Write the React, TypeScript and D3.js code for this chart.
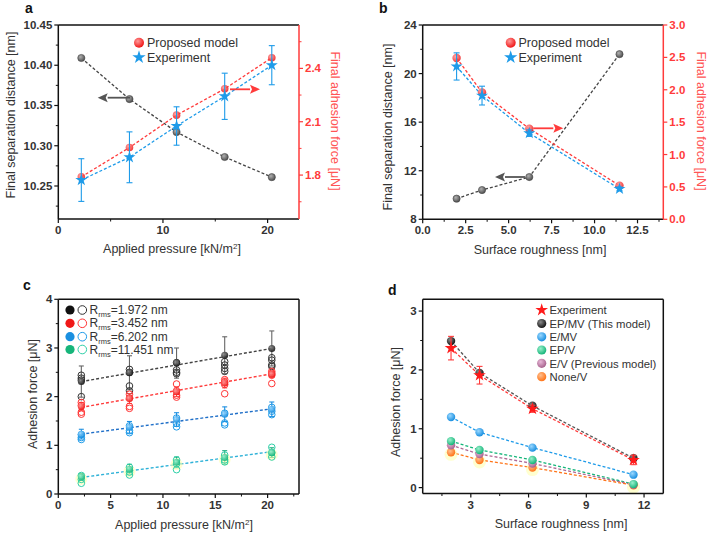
import React from 'react';
import * as d3 from 'd3';

// ---------- data ----------
const pressure = [2.2, 6.8, 11.3, 15.9, 20.4];
const aSeparation = [10.409, 10.358, 10.317, 10.286, 10.261];
const aModelForce = [1.79, 1.955, 2.137, 2.285, 2.46];
const aExpForce = [1.772, 1.9, 2.076, 2.243, 2.418];
const aExpErr = [0.12, 0.143, 0.108, 0.13, 0.11];

const roughness = [1.972, 3.452, 6.202, 11.451];
const bSeparation = [9.7, 10.41, 11.48, 21.6];
const bModelForce = [2.49, 1.96, 1.4, 0.52];
const bExpForce = [2.36, 1.91, 1.33, 0.47];
const bExpErr = [0.21, 0.145, 0.05, 0.03];

const cLabels = ['1.972 nm', '3.452 nm', '6.202 nm', '11.451 nm'];
const cMeans = [
  [2.31, 2.49, 2.69, 2.85, 2.99],
  [1.8, 1.96, 2.1, 2.28, 2.46],
  [1.23, 1.37, 1.53, 1.64, 1.74],
  [0.35, 0.51, 0.65, 0.75, 0.85],
];
const cErr = [
  [0.32, 0.35, 0.31, 0.38, 0.36],
  [0.08, 0.1, 0.1, 0.1, 0.06],
  [0.1, 0.12, 0.14, 0.15, 0.15],
  [0.07, 0.1, 0.11, 0.14, 0.1],
];
const cOpen = [
  [[2.44, 2.38, 2.34, 2.0], [2.56, 2.5, 2.22, 2.12], [2.7, 2.55, 2.5, 2.47], [2.72, 2.65, 2.58, 2.52], [2.8, 2.75, 2.65, 2.62]],
  [[1.88, 1.82, 1.68, 1.64], [2.05, 1.97, 1.8, 1.76], [2.26, 2.12, 2.03, 1.99], [2.35, 2.3, 2.25, 2.06], [2.52, 2.48, 2.44, 2.27]],
  [[1.22, 1.16, 1.12], [1.4, 1.3, 1.26], [1.56, 1.45, 1.38], [1.66, 1.46, 1.42], [1.78, 1.7, 1.63]],
  [[0.38, 0.3, 0.22], [0.55, 0.45, 0.39], [0.7, 0.62, 0.5], [0.8, 0.7, 0.66], [0.96, 0.85, 0.76]],
];
const cFit = [
  [2.31, 2.99],
  [1.78, 2.47],
  [1.23, 1.75],
  [0.34, 0.87],
];

const dLabels = ['Experiment', 'EP/MV (This model)', 'E/MV', 'EP/V', 'E/V (Previous model)', 'None/V'];
const dExp = [2.37, 1.91, 1.34, 0.47];
const dExpErr = [0.2, 0.15, 0.06, 0.08];
const dEPMV = [2.49, 1.95, 1.39, 0.5];
const dEMV = [1.2, 0.94, 0.68, 0.22];
const dEPV = [0.79, 0.64, 0.47, 0.06];
const dEV = [0.72, 0.57, 0.41, 0.05];
const dNoneV = [0.6, 0.47, 0.34, 0.04];

// ---------- style ----------
const FONT = "Arial, 'Liberation Sans', Helvetica, sans-serif";
const TXT = '#333';
const RED = '#ff3b3b';
const BLUE = '#1e9be9';
const GRAY = '#555';

type Sc = d3.ScaleLinear<number, number>;

function XAxis({ scale, y, major, minor, fmt }: { scale: Sc; y: number; major: number[]; minor: number[]; fmt: (v: number) => string }) {
  return (
    <g>
      {minor.map((v) => (
        <line key={'m' + v} x1={scale(v)} x2={scale(v)} y1={y} y2={y + 2.5} stroke="#111" strokeWidth={1} />
      ))}
      {major.map((v) => (
        <g key={'M' + v}>
          <line x1={scale(v)} x2={scale(v)} y1={y} y2={y + 4} stroke="#111" strokeWidth={1.2} />
          <text x={scale(v)} y={y + 15} textAnchor="middle" fontSize={11.5} fontWeight="bold" fill={TXT}>
            {fmt(v)}
          </text>
        </g>
      ))}
    </g>
  );
}

function YAxis({ scale, x, major, minor, fmt, side, color }: { scale: Sc; x: number; major: number[]; minor: number[]; fmt: (v: number) => string; side: 'left' | 'right'; color: string }) {
  const s = side === 'left' ? -1 : 1;
  return (
    <g>
      {minor.map((v) => (
        <line key={'m' + v} x1={x} x2={x + s * 2.5} y1={scale(v)} y2={scale(v)} stroke={color} strokeWidth={1} />
      ))}
      {major.map((v) => (
        <g key={'M' + v}>
          <line x1={x} x2={x + s * 4} y1={scale(v)} y2={scale(v)} stroke={color} strokeWidth={1.2} />
          <text
            x={x + s * 6}
            y={scale(v) + 4}
            textAnchor={side === 'left' ? 'end' : 'start'}
            fontSize={11.5}
            fontWeight="bold"
            fill={side === 'left' ? TXT : color}
          >
            {fmt(v)}
          </text>
        </g>
      ))}
    </g>
  );
}

function Frame({ x0, x1, y0, y1, right = '#111' }: { x0: number; x1: number; y0: number; y1: number; right?: string }) {
  return (
    <g strokeWidth={1.5} fill="none">
      <line x1={x0} x2={x1} y1={y0} y2={y0} stroke="#111" />
      <line x1={x0} x2={x1} y1={y1} y2={y1} stroke="#111" />
      <line x1={x0} x2={x0} y1={y0} y2={y1} stroke="#111" />
      <line x1={x1} x2={x1} y1={y0} y2={y1} stroke={right} />
    </g>
  );
}

function Arrow({ x1, x2, y, color }: { x1: number; x2: number; y: number; color: string }) {
  const dir = x2 > x1 ? 1 : -1;
  const hx = x2 - dir * 10;
  return (
    <g>
      <line x1={x1} x2={hx} y1={y} y2={y} stroke={color} strokeWidth={1.8} />
      <path d={`M${x2},${y} L${hx},${y - 4.5} L${hx + dir * 2},${y} L${hx},${y + 4.5} Z`} fill={color} />
    </g>
  );
}

const star = (size: number) => d3.symbol().type(d3.symbolStar).size(size)() as string;

function ErrBar({ x, y1, y2, color, w = 3 }: { x: number; y1: number; y2: number; color: string; w?: number }) {
  return (
    <g stroke={color} strokeWidth={1.1}>
      <line x1={x} x2={x} y1={y1} y2={y2} />
      <line x1={x - w} x2={x + w} y1={y1} y2={y1} />
      <line x1={x - w} x2={x + w} y1={y2} y2={y2} />
    </g>
  );
}

const grad = (id: string) => `url(#g_${id})`;
const COLORS: Record<string, [string, string]> = {
  gray: ['#b0b0b0', '#505050'],
  black: ['#8a8a8a', '#151515'],
  red: ['#ff9a9a', '#f01818'],
  blue: ['#9ad8ff', '#1a8fe0'],
  green: ['#9af0cc', '#16b57a'],
  purple: ['#e8b8d8', '#a8648e'],
  orange: ['#ffc090', '#ff7418'],
};

function linePath(xs: number[], ys: number[], sx: Sc, sy: Sc) {
  return d3
    .line<number>()
    .x((_, i) => sx(xs[i]))
    .y((v) => sy(v))(ys) as string;
}

function AxisTitleX({ x, y, children }: { x: number; y: number; children: React.ReactNode }) {
  return (
    <text x={x} y={y} textAnchor="middle" fontSize={12.5} fill={TXT}>
      {children}
    </text>
  );
}
function AxisTitleY({ x, y, children, color = TXT, right = false }: { x: number; y: number; children: React.ReactNode; color?: string; right?: boolean }) {
  return (
    <text x={0} y={0} transform={`translate(${x},${y}) rotate(${right ? 90 : -90})`} textAnchor="middle" fontSize={12.5} fill={color}>
      {children}
    </text>
  );
}

const pressureLabel = (
  <>
    Applied pressure [kN/m<tspan dy={-4} fontSize={8}>2</tspan>
    <tspan dy={4}>]</tspan>
  </>
);

export default function App() {
  const aX = d3.scaleLinear().domain([0, 23]).range([58.3, 299]);
  const aYL = d3.scaleLinear().domain([10.209, 10.45]).range([219, 25]);
  const aYR = d3.scaleLinear().domain([1.553, 2.644]).range([219, 25]);
  const bX = d3.scaleLinear().domain([0, 14]).range([422.7, 663.3]);
  const bYL = d3.scaleLinear().domain([8, 24]).range([219.3, 25]);
  const bYR = d3.scaleLinear().domain([0, 3]).range([219.3, 25]);
  const cX = d3.scaleLinear().domain([0, 23]).range([58.3, 299]);
  const cY = d3.scaleLinear().domain([0, 4]).range([494, 299.3]);
  const dX = d3.scaleLinear().domain([0.5, 13]).range([422.7, 663.3]);
  const dY = d3.scaleLinear().domain([-0.1, 3.2]).range([493.5, 299.3]);

  const f2 = d3.format('.2f');
  const f1 = d3.format('.1f');
  const f0 = d3.format('d');

  const cCol = [
    { fill: 'black', stroke: '#333', line: '#444', err: '#666' },
    { fill: 'red', stroke: '#ff3333', line: '#ff3b3b', err: '#ff4040' },
    { fill: 'blue', stroke: '#1e9be9', line: '#1f6fc8', err: '#1e8fe0' },
    { fill: 'green', stroke: '#2ed0a8', line: '#2fb2d8', err: '#1cae80' },
  ];
  const cLegendFill = ['#111', '#f01818', '#1a8fe0', '#16b57a'];

  const dSeries = [
    { vals: dEPMV, fill: 'black', line: '#555' },
    { vals: dEMV, fill: 'blue', line: '#1e9be9' },
    { vals: dEPV, fill: 'green', line: '#16b57a' },
    { vals: dEV, fill: 'purple', line: '#b06a95' },
    { vals: dNoneV, fill: 'orange', line: '#ff7418' },
  ];

  return (
    <svg width={709} height={540} style={{ position: 'absolute', left: 0, top: 0, background: '#fff' }} fontFamily={FONT}>
      <defs>
        {Object.entries(COLORS).map(([k, [c1, c2]]) => (
          <radialGradient key={k} id={`g_${k}`} cx="38%" cy="35%" r="65%">
            <stop offset="0%" stopColor={c1} />
            <stop offset="100%" stopColor={c2} />
          </radialGradient>
        ))}
      </defs>
      <rect width={709} height={540} fill="#fff" />

      {/* ================= panel a ================= */}
      <text x={25} y={13} fontSize={14} fontWeight="bold" fill="#111">a</text>
      <XAxis scale={aX} y={219} major={[0, 10, 20]} minor={[5, 15]} fmt={f0} />
      <YAxis scale={aYL} x={58.3} side="left" color="#111" major={[10.25, 10.3, 10.35, 10.4, 10.45]} minor={[10.225, 10.275, 10.325, 10.375, 10.425]} fmt={f2} />
      <YAxis scale={aYR} x={299} side="right" color={RED} major={[1.8, 2.1, 2.4]} minor={[1.65, 1.95, 2.25, 2.55]} fmt={f1} />
      <path d={linePath(pressure, aSeparation, aX, aYL)} fill="none" stroke="#444" strokeWidth={1.3} strokeDasharray="3,2" />
      <path d={linePath(pressure, aModelForce, aX, aYR)} fill="none" stroke={RED} strokeWidth={1.3} strokeDasharray="3,2" />
      <path d={linePath(pressure, aExpForce, aX, aYR)} fill="none" stroke={BLUE} strokeWidth={1.3} strokeDasharray="3,2" />
      {pressure.map((p, i) => (
        <g key={'a' + i}>
          <circle cx={aX(p)} cy={aYL(aSeparation[i])} r={3.6} fill={grad('gray')} stroke="#444" strokeWidth={0.6} />
          <circle cx={aX(p)} cy={aYR(aModelForce[i])} r={3.8} fill={grad('red')} opacity={0.85} />
          <ErrBar x={aX(p)} y1={aYR(aExpForce[i] + aExpErr[i])} y2={aYR(aExpForce[i] - aExpErr[i])} color={BLUE} />
          <path d={star(45)} transform={`translate(${aX(p)},${aYR(aExpForce[i])})`} fill={BLUE} />
        </g>
      ))}
      <Arrow x1={130} x2={97.7} y={97.7} color={GRAY} />
      <Arrow x1={230} x2={260} y={89.3} color={RED} />
      <circle cx={139} cy={42.7} r={5} fill={grad('red')} />
      <text x={147} y={47} fontSize={12.5} fill={TXT}>Proposed model</text>
      <path d={star(55)} transform="translate(139,57.3)" fill={BLUE} />
      <text x={147} y={61.5} fontSize={12.5} fill={TXT}>Experiment</text>
      <Frame x0={58.3} x1={299} y0={25} y1={219} right={RED} />
      <AxisTitleX x={172} y={253}>{pressureLabel}</AxisTitleX>
      <AxisTitleY x={15} y={115}>Final separation distance [nm]</AxisTitleY>
      <AxisTitleY x={331} y={121} color="#ff5555" right>Final adhesion force [μN]</AxisTitleY>

      {/* ================= panel b ================= */}
      <text x={379} y={13} fontSize={14} fontWeight="bold" fill="#111">b</text>
      <XAxis scale={bX} y={219.3} major={[0, 2.5, 5, 7.5, 10, 12.5]} minor={[1.25, 3.75, 6.25, 8.75, 11.25, 13.75]} fmt={f1} />
      <YAxis scale={bYL} x={422.7} side="left" color="#111" major={[8, 12, 16, 20, 24]} minor={[10, 14, 18, 22]} fmt={f0} />
      <YAxis scale={bYR} x={663.3} side="right" color={RED} major={[0, 0.5, 1, 1.5, 2, 2.5, 3]} minor={[]} fmt={f1} />
      <path d={linePath(roughness, bSeparation, bX, bYL)} fill="none" stroke="#444" strokeWidth={1.3} strokeDasharray="3,2" />
      <path d={linePath(roughness, bModelForce, bX, bYR)} fill="none" stroke={RED} strokeWidth={1.3} strokeDasharray="3,2" />
      <path d={linePath(roughness, bExpForce, bX, bYR)} fill="none" stroke={BLUE} strokeWidth={1.3} strokeDasharray="3,2" />
      {roughness.map((r, i) => (
        <g key={'b' + i}>
          <circle cx={bX(r)} cy={bYL(bSeparation[i])} r={3.6} fill={grad('gray')} stroke="#444" strokeWidth={0.6} />
          <circle cx={bX(r)} cy={bYR(bModelForce[i])} r={4.2} fill={grad('red')} opacity={0.85} />
          <ErrBar x={bX(r)} y1={bYR(bExpForce[i] + bExpErr[i])} y2={bYR(bExpForce[i] - bExpErr[i])} color={BLUE} />
          <path d={star(45)} transform={`translate(${bX(r)},${bYR(bExpForce[i])})`} fill={BLUE} />
        </g>
      ))}
      <Arrow x1={533.3} x2={563.3} y={128.3} color={RED} />
      <Arrow x1={525} x2={495} y={177} color={GRAY} />
      <circle cx={510.7} cy={42.7} r={5} fill={grad('red')} />
      <text x={518.5} y={47} fontSize={12.5} fill={TXT}>Proposed model</text>
      <path d={star(55)} transform="translate(510.7,57.3)" fill={BLUE} />
      <text x={518.5} y={61.5} fontSize={12.5} fill={TXT}>Experiment</text>
      <Frame x0={422.7} x1={663.3} y0={25} y1={219.3} right={RED} />
      <AxisTitleX x={540} y={254}>Surface roughness  [nm]</AxisTitleX>
      <AxisTitleY x={392} y={127}>Final separation distance [nm]</AxisTitleY>
      <AxisTitleY x={697} y={121} color="#ff5555" right>Final adhesion force [μN]</AxisTitleY>

      {/* ================= panel c ================= */}
      <text x={23} y={290} fontSize={14} fontWeight="bold" fill="#111">c</text>
      <XAxis scale={cX} y={494} major={[0, 5, 10, 15, 20]} minor={[2.5, 7.5, 12.5, 17.5, 22.5]} fmt={f0} />
      <YAxis scale={cY} x={58.3} side="left" color="#111" major={[0, 1, 2, 3, 4]} minor={[0.5, 1.5, 2.5, 3.5]} fmt={f0} />
      {cMeans.map((means, s) => (
        <g key={'c' + s}>
          <line
            x1={cX(pressure[0])}
            x2={cX(pressure[pressure.length - 1])}
            y1={cY(cFit[s][0])}
            y2={cY(cFit[s][1])}
            stroke={cCol[s].line}
            strokeWidth={1.4}
            strokeDasharray="3,2"
          />
          {pressure.map((p, i) => (
            <g key={i}>
              <ErrBar x={cX(p)} y1={cY(means[i] + cErr[s][i])} y2={cY(means[i] - cErr[s][i])} color={cCol[s].err} w={2.5} />
              {s === 3 && <circle cx={cX(p)} cy={cY(means[i]) + 2} r={6} fill="#ffffb0" opacity={0.6} />}
              {cOpen[s][i].map((v, k) => (
                <circle key={k} cx={cX(p)} cy={cY(v)} r={3.3} fill="none" stroke={cCol[s].stroke} strokeWidth={1} />
              ))}
              <circle cx={cX(p)} cy={cY(means[i])} r={3.5} fill={grad(cCol[s].fill)} opacity={0.9} />
            </g>
          ))}
        </g>
      ))}
      {cLabels.map((lab, s) => {
        const y = [310, 323.3, 336.7, 349.5][s];
        return (
          <g key={'cl' + s}>
            <circle cx={70} cy={y} r={4.6} fill={cLegendFill[s]} />
            <circle cx={82.3} cy={y} r={4.3} fill="none" stroke={cCol[s].stroke} strokeWidth={1} />
            <text x={89.5} y={y + 4} fontSize={12} fill={TXT}>
              R<tspan fontSize={7.5} dy={3}>rms</tspan>
              <tspan dy={-3}>={lab}</tspan>
            </text>
          </g>
        );
      })}
      <Frame x0={58.3} x1={299} y0={299.3} y1={494} />
      <AxisTitleX x={184} y={529}>{pressureLabel}</AxisTitleX>
      <AxisTitleY x={37} y={394}>Adhesion force [μN]</AxisTitleY>

      {/* ================= panel d ================= */}
      <text x={388} y={295} fontSize={14} fontWeight="bold" fill="#111">d</text>
      <XAxis scale={dX} y={493.5} major={[3, 6, 9, 12]} minor={[1.5, 4.5, 7.5, 10.5]} fmt={f0} />
      <YAxis scale={dY} x={422.7} side="left" color="#111" major={[0, 1, 2, 3]} minor={[0.5, 1.5, 2.5]} fmt={f0} />
      {dSeries.map((ser, s) => (
        <path key={'dl' + s} d={linePath(roughness, ser.vals, dX, dY)} fill="none" stroke={ser.line} strokeWidth={1.3} strokeDasharray="3,2" />
      ))}
      <path d={linePath(roughness, dExp, dX, dY)} fill="none" stroke={RED} strokeWidth={1.3} strokeDasharray="3,2" />
      {dSeries
        .slice()
        .reverse()
        .map((ser, s) => (
          <g key={'dp' + s}>
            {roughness.map((r, i) => (
              <g key={i}>
                {ser.fill === 'orange' && <circle cx={dX(r)} cy={dY(ser.vals[i]) + 2} r={6.5} fill="#ffffb0" opacity={0.6} />}
                <circle cx={dX(r)} cy={dY(ser.vals[i])} r={4.2} fill={grad(ser.fill)} />
              </g>
            ))}
          </g>
        ))}
      {roughness.map((r, i) => (
        <g key={'de' + i}>
          <ErrBar x={dX(r)} y1={dY(dExp[i] + dExpErr[i])} y2={dY(dExp[i] - dExpErr[i])} color={RED} w={3} />
          <path d={star(50)} transform={`translate(${dX(r)},${dY(dExp[i])})`} fill="#ff1a1a" />
        </g>
      ))}
      {dLabels.map((lab, k) => {
        const y = [310, 323.5, 336.8, 350, 363.3, 376.7][k];
        const fills = ['', 'black', 'blue', 'green', 'purple', 'orange'];
        return (
          <g key={'dlg' + k}>
            {k === 0 ? (
              <path d={star(50)} transform={`translate(541.7,${y})`} fill="#ff1a1a" />
            ) : (
              <circle cx={541.7} cy={y} r={4.6} fill={grad(fills[k])} />
            )}
            <text x={549.5} y={y + 4.3} fontSize={11.3} fill={TXT}>{lab}</text>
          </g>
        );
      })}
      <Frame x0={422.7} x1={663.3} y0={299.3} y1={493.5} />
      <AxisTitleX x={561} y={528}>Surface roughness  [nm]</AxisTitleX>
      <AxisTitleY x={400} y={402}>Adhesion force [μN]</AxisTitleY>
    </svg>
  );
}
